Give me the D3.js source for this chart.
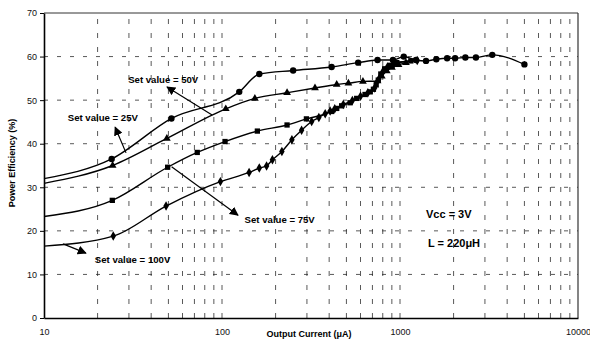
<!DOCTYPE html>
<html><head><meta charset="utf-8">
<script src="https://cdn.jsdelivr.net/npm/d3@7"></script>
<style>
html,body{margin:0;padding:0;background:#fff;}
svg{display:block;font-family:"Liberation Sans",Arial,sans-serif;}
</style></head>
<body><svg id="c" width="590" height="342"></svg>
<script>
// ---- data (x: output current µA, y: efficiency %) ----
const s50X  = [10, 24, 52, 125, 162, 251, 413, 582, 748, 913, 1050, 1230, 1400, 1600, 1840, 2040, 2330, 2670, 3300, 5000];
const s50Y  = [32.0, 36.5, 45.8, 51.9, 56.0, 56.8, 57.6, 58.6, 59.2, 59.2, 60.0, 59.2, 59.0, 59.4, 59.6, 59.6, 59.8, 59.8, 60.4, 58.2];
const s25X  = [10, 24.3, 49, 105, 153, 232, 333, 441, 513, 619, 748, 790, 843, 900, 982, 1080];
const s25Y  = [30.9, 35.0, 41.2, 48.0, 50.4, 51.7, 52.8, 53.6, 53.9, 54.3, 54.4, 55.5, 56.7, 57.5, 58.1, 58.6];
const s75X  = [10, 24.2, 49.5, 72.6, 104, 158, 232, 298, 413, 441, 470, 524, 571, 636, 680, 709, 735, 755, 780, 820, 880, 960, 1150];
const s75Y  = [23.3, 27.0, 34.6, 38.0, 40.5, 42.9, 44.3, 45.7, 47.4, 48.1, 48.7, 49.4, 50.4, 51.3, 51.9, 52.5, 53.5, 54.6, 56.0, 57.2, 58.0, 58.6, 59.0];
const s100X = [10, 24.5, 48.5, 98, 142, 162, 178, 192, 217, 247, 280, 319, 350, 380, 405, 430, 480, 540, 600, 660, 720, 760, 800, 850, 930, 1250];
const s100Y = [16.5, 18.8, 25.7, 31.3, 33.4, 34.4, 34.9, 36.3, 38.2, 40.9, 43.1, 45.1, 46.0, 46.9, 47.5, 48.0, 49.0, 49.9, 50.9, 51.7, 52.8, 54.8, 56.5, 57.6, 58.4, 59.1];

const yTicks = [0, 10, 20, 30, 40, 50, 60, 70];
const xTickLabels = [10, 100, 1000, 10000];
const labelNames = ["Set value = 50V", "Set value = 25V", "Set value = 75V", "Set value = 100V"];
// annotation anchors in data units: text start, arrow tail, arrow head
const labelX = [29.7, 13.6, 134, 19.3];
const labelY = [54.6, 45.9, 22.5, 13.3];
const arrowTailX = [88, 28.9, 52.1, 12.8];
const arrowTailY = [46.6, 37.9, 34.7, 17.0];
const arrowHeadX = [49.1, 25.1, 123, 17.2];
const arrowHeadY = [53.0, 43.8, 23.6, 14.9];
const noteText = ["Vcc = 3V", "L = 220μH"];
const noteX = [1400, 1436];
const noteY = [23.9, 17.2];

// ---- layout ----
const L = 44, R = 578, T = 13, B = 318;
const svg = d3.select("#c");
const x = d3.scaleLog().domain([10, 10000]).range([L, R]);
const y = d3.scaleLinear().domain([0, 70]).range([B, T]);

// grid
const minor = [];
[10, 100, 1000].forEach(d => { for (let k = 2; k <= 9; k++) minor.push(d * k); });
[100, 1000].forEach(v => minor.push(v));
const g = svg.append("g");
g.selectAll("line.v").data(minor).join("line")
  .attr("x1", d => x(d)).attr("x2", d => x(d)).attr("y1", B).attr("y2", T)
  .attr("stroke", "#222").attr("stroke-width", 1).attr("stroke-dasharray", "5,9").attr("opacity", 0.75);
g.selectAll("line.h").data(yTicks.filter(d => d > 0 && d < 70)).join("line")
  .attr("x1", L).attr("x2", R).attr("y1", d => y(d)).attr("y2", d => y(d))
  .attr("stroke", "#222").attr("stroke-width", 1).attr("stroke-dasharray", "4,9").attr("opacity", 0.75);

// frame
svg.append("line").attr("x1", L).attr("x2", R).attr("y1", T).attr("y2", T).attr("stroke", "#333").attr("stroke-width", 1);
svg.append("line").attr("x1", R).attr("x2", R).attr("y1", T).attr("y2", B).attr("stroke", "#333").attr("stroke-width", 1.2);

// axes
const yAxis = d3.axisLeft(y).tickValues(yTicks).tickSize(4).tickSizeOuter(0).tickPadding(3);
const ya = svg.append("g").attr("transform", `translate(${L},0)`).call(yAxis);
const xAxis = d3.axisBottom(x).tickValues(xTickLabels).tickFormat(d3.format("d")).tickSize(0).tickSizeOuter(0).tickPadding(11);
const xa = svg.append("g").attr("transform", `translate(0,${B})`).call(xAxis);
[ya, xa].forEach(a => {
  a.select(".domain").attr("stroke", "#000").attr("stroke-width", 1.6);
  a.selectAll(".tick line").attr("stroke", "#000");
  a.selectAll("text").attr("font-size", 9).attr("fill", "#111").attr("font-family", "Liberation Sans, Arial, sans-serif");
});

// axis titles
svg.append("text").attr("x", 309).attr("y", 337).attr("text-anchor", "middle")
  .attr("font-size", 9).attr("font-weight", "bold").text("Output Current (μA)");
svg.append("text").attr("transform", "translate(15,163) rotate(-90)").attr("text-anchor", "middle")
  .attr("font-size", 9).attr("font-weight", "bold").text("Power Efficiency (%)");

// series
const series = [
  {xs: s50X, ys: s50Y, sym: d3.symbolCircle, size: 32},
  {xs: s25X, ys: s25Y, sym: d3.symbolTriangle, size: 26},
  {xs: s75X, ys: s75Y, sym: d3.symbolSquare, size: 28},
  {xs: s100X, ys: s100Y, sym: d3.symbolDiamond, size: 26},
];
const line = d3.line().x(d => x(d[0])).y(d => y(d[1])).curve(d3.curveMonotoneX);
series.forEach(s => {
  const pts = s.xs.map((v, i) => [v, s.ys[i]]);
  svg.append("path").datum(pts).attr("d", line).attr("fill", "none")
    .attr("stroke", "#000").attr("stroke-width", 1.4);
  svg.append("g").selectAll("path").data(pts.slice(1)).join("path")
    .attr("transform", d => `translate(${x(d[0])},${y(d[1])})`)
    .attr("d", d3.symbol().type(s.sym).size(s.size)).attr("fill", "#000");
});

// annotations
const defs = svg.append("defs");
defs.append("marker").attr("id", "ah").attr("viewBox", "0 0 10 10").attr("refX", 9).attr("refY", 5)
  .attr("markerWidth", 9).attr("markerHeight", 9).attr("markerUnits", "userSpaceOnUse").attr("orient", "auto")
  .append("path").attr("d", "M0,0 L10,5 L0,10 z").attr("fill", "#000");
labelNames.forEach((t, i) => {
  svg.append("line").attr("x1", x(arrowTailX[i])).attr("y1", y(arrowTailY[i]))
    .attr("x2", x(arrowHeadX[i])).attr("y2", y(arrowHeadY[i]))
    .attr("stroke", "#000").attr("stroke-width", 1.2).attr("marker-end", "url(#ah)");
  svg.append("text").attr("x", x(labelX[i])).attr("y", y(labelY[i])).attr("dy", "0.35em")
    .attr("font-size", 9.6).attr("font-weight", "bold").attr("fill", "#000").text(t);
});
noteText.forEach((t, i) => {
  svg.append("text").attr("x", x(noteX[i])).attr("y", y(noteY[i])).attr("dy", "0.35em")
    .attr("font-size", 11).attr("font-weight", "bold").attr("fill", "#000").text(t);
});
</script></body></html>
